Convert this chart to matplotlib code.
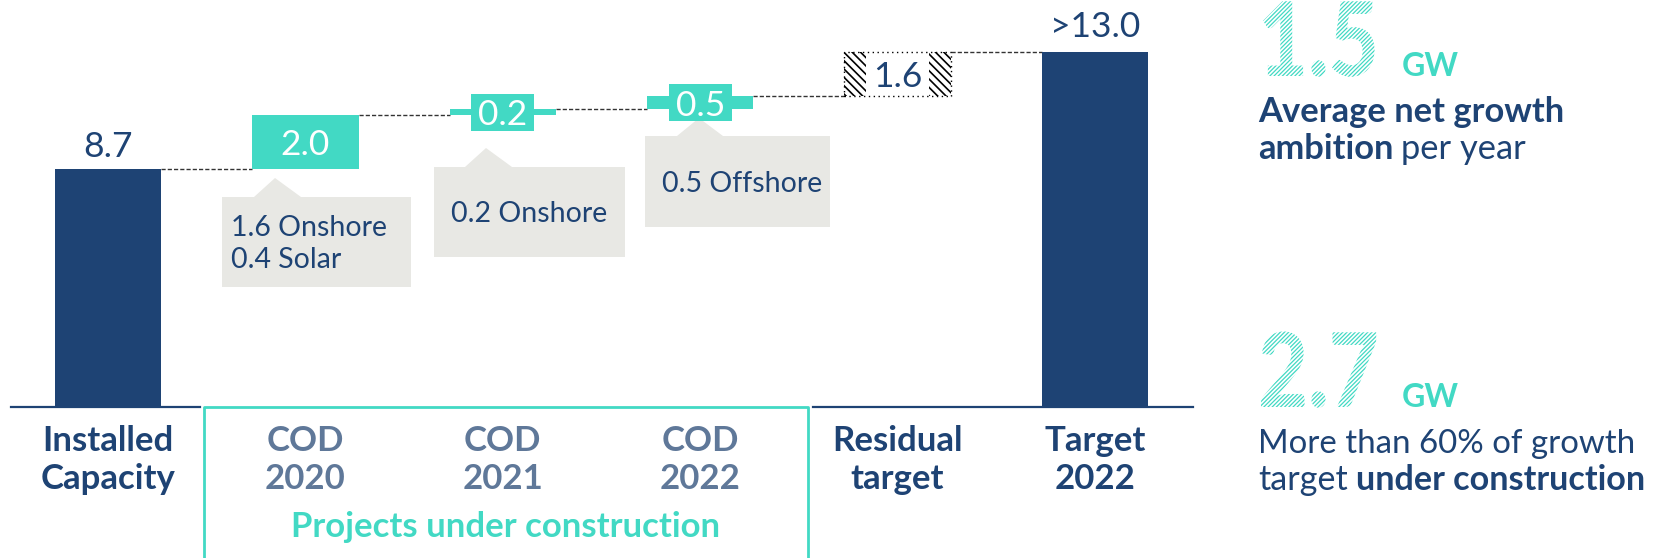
import matplotlib
matplotlib.use("Agg")
import matplotlib.pyplot as plt
from matplotlib.patches import Polygon, PathPatch
from matplotlib.textpath import TextPath
from matplotlib.font_manager import FontProperties
from matplotlib.transforms import Affine2D

plt.rcParams["font.family"] = "Lato"
plt.rcParams["hatch.linewidth"] = 0.9

W, H = 1667, 558
NAVY = "#1e4374"
TEAL = "#42d9c4"
SLATE = "#5f7899"
GREY = "#e8e8e4"

categories = ["Installed\nCapacity", "COD\n2020", "COD\n2021", "COD\n2022",
              "Residual\ntarget", "Target\n2022"]
values = [8.7, 2.0, 0.2, 0.5, 1.6, 13.0]
value_labels = ["8.7", "2.0", "0.2", "0.5", "1.6", ">13.0"]
breakdown = ["1.6 Onshore\n0.4 Solar", "0.2 Onshore", "0.5 Offshore"]
group_label = "Projects under construction"
kpi_values = ["1.5", "2.7"]

# waterfall: first and last bars start at zero, the rest float on the running total
bottoms = [0.0]
total = values[0]
for v in values[1:-1]:
    bottoms.append(total)
    total += v
bottoms.append(0.0)
tops = [b + v for b, v in zip(bottoms, values)]

# layout in pixels of the 1667x558 picture
X0, DX = 108, 197.4   # centre of first bar, spacing between bars
Y0, DY = 407, 27.3    # baseline, pixels per GW
BW = 0.54
VAL_FS = 25.5
CAT_FS = 25
NOTE_FS = 20.5

fig = plt.figure(figsize=(W / 100, H / 100), dpi=100)
ax = fig.add_axes([0, 0, 1, 1])
ax.set_xlim(-X0 / DX, (W - X0) / DX)
ax.set_ylim(-(H - Y0) / DY, Y0 / DY)
ax.axis("off")


def to_data(x, y):
    return (x - X0) / DX, (Y0 - y) / DY


xs = list(range(len(values)))
solid = [0, 1, 2, 3, 5]
colors = [NAVY, TEAL, TEAL, TEAL, "white", NAVY]
ax.bar([xs[i] for i in solid], [values[i] for i in solid],
       bottom=[bottoms[i] for i in solid], width=BW,
       color=[colors[i] for i in solid], linewidth=0, zorder=2)

# residual target: hatched ends, dotted outline
r = 4
hw = 0.11
with plt.rc_context({"hatch.linewidth": 1.2}):
    for side in (-1, 1):
        ax.bar(r + side * (BW / 2 - hw / 2), values[r], bottom=bottoms[r], width=hw,
               facecolor="white", edgecolor="black", hatch="\\\\\\\\", linewidth=0,
               zorder=2)
ax.bar(r, values[r], bottom=bottoms[r], width=BW, fill=False, edgecolor="black",
       linestyle=(0, (1, 2.5)), linewidth=1, zorder=3)

# connectors
for i in range(len(values) - 1):
    ax.plot([i + BW / 2, i + 1 - BW / 2], [tops[i], tops[i]], color="#333333",
            lw=1, ls=(0, (3, 1.5)), zorder=1)

# value labels
ax.text(xs[0], tops[0] + 0.45, value_labels[0], ha="center", va="baseline",
        fontsize=VAL_FS, color=NAVY)
ax.text(xs[5], tops[5] + 0.55, value_labels[5], ha="center", va="baseline",
        fontsize=VAL_FS, color=NAVY)
ax.text(xs[1], bottoms[1] + values[1] / 2, value_labels[1], ha="center",
        va="center_baseline", fontsize=VAL_FS, color="white", zorder=4)
for i in (2, 3):
    mid = bottoms[i] + values[i] / 2
    ax.add_patch(plt.Rectangle((i - 0.16, mid - 0.68), 0.32, 1.36,
                               facecolor=TEAL, linewidth=0, zorder=3))
    ax.text(i, mid, value_labels[i], ha="center", va="center_baseline",
            fontsize=VAL_FS, color="white", zorder=4)
ax.text(r, bottoms[r] + values[r] / 2, value_labels[r], ha="center",
        va="center_baseline", fontsize=VAL_FS, color=NAVY, zorder=4)

# grey call-outs: left, right, top, bottom, pointer apex x/y, pointer base l/r, text x, first baseline
callouts = [
    (222, 411, 197, 287, 275, 178, 254, 301, 231, 236),
    (434, 625, 167, 257, 486, 148, 465, 512, 451, 222),
    (645, 830, 136, 227, 699, 118, 677, 723, 662, 192),
]
for txt, (L, R, T, B, axp, ayp, bl, br, tx, tb) in zip(breakdown, callouts):
    pts = [(L, T), (bl, T), (axp, ayp), (br, T), (R, T), (R, B), (L, B)]
    ax.add_patch(Polygon([to_data(*p) for p in pts], closed=True,
                         facecolor=GREY, linewidth=0, zorder=1))
    for k, line in enumerate(txt.split("\n")):
        ax.text(*to_data(tx, tb + 32 * k), line, ha="left", va="baseline",
                fontsize=NOTE_FS, color=NAVY, zorder=4)

# baseline and "under construction" frame
ax.plot([to_data(11, 0)[0], to_data(200, 0)[0]], [0, 0], color=NAVY, lw=1.6)
ax.plot([to_data(813, 0)[0], to_data(1193, 0)[0]], [0, 0], color=NAVY, lw=1.6)
fx = [to_data(204, 0)[0], to_data(204, 0)[0], to_data(808, 0)[0], to_data(808, 0)[0]]
fy = [to_data(0, 570)[1], 0, 0, to_data(0, 570)[1]]
ax.plot(fx, fy, color=TEAL, lw=2)

# category labels
for i, cat in enumerate(categories):
    col = SLATE if cat.startswith("COD") else NAVY
    for k, line in enumerate(cat.split("\n")):
        ax.text(i, to_data(0, 451 + 38 * k)[1], line, ha="center", va="baseline",
                fontsize=CAT_FS, fontweight="bold", color=col)
ax.text(to_data(506, 0)[0], to_data(0, 537)[1], group_label, ha="center",
        va="baseline", fontsize=CAT_FS, fontweight="bold", color=TEAL)

# right-hand KPI panel
fp_big = FontProperties(family="Lato", weight="black")


def hatched_text(s, x, y_base, size_px, sx=0.84):
    tp = TextPath((0, 0), s, size=size_px, prop=fp_big)
    tr = Affine2D().scale(sx, 1).translate(x, H - y_base)
    fig.add_artist(PathPatch(tp, facecolor="none", edgecolor=TEAL,
                             hatch="////////", lw=0, transform=tr))


def ftext(x, y, s, **kw):
    return fig.text(x / W, 1 - y / H, s, va="baseline", ha="left", **kw)


fig.canvas.draw()
rend = fig.canvas.get_renderer()


def two_part(x, y, first, second, bold_first, size):
    w1 = "bold" if bold_first else "normal"
    w2 = "normal" if bold_first else "bold"
    t = ftext(x, y, first, fontsize=size, fontweight=w1, color=NAVY)
    ext = t.get_window_extent(renderer=rend)
    ftext(ext.x1 + 8, y, second, fontsize=size, fontweight=w2, color=NAVY)


for kpi, base in zip(kpi_values, (76, 407)):
    hatched_text(kpi, 1258, base, 103)
    ftext(1402, base, "GW", fontsize=23, fontweight="bold", color=TEAL)

ftext(1258, 122, "Average net growth", fontsize=24.8, fontweight="bold", color=NAVY)
two_part(1258, 159, "ambition", "per year", True, 24.8)
ftext(1258, 453, "More than 60% of growth", fontsize=23.8, color=NAVY)
two_part(1258, 490, "target", "under construction", False, 24.6)

fig.savefig("out.png", dpi=100)
